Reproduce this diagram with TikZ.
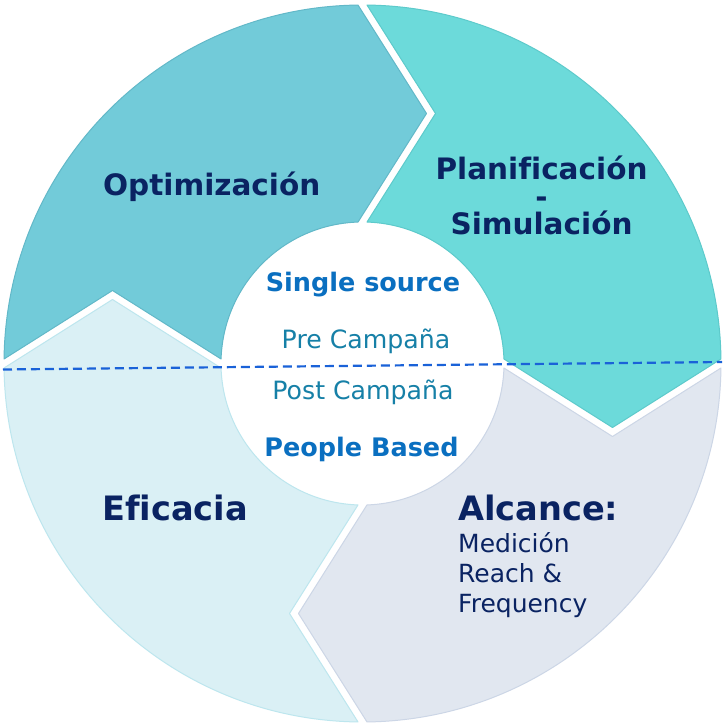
\documentclass[tikz,border=0pt]{standalone}
\usepackage{fontspec}
\setmainfont{DejaVu Sans}[Ligatures=CommonOff]
\usetikzlibrary{calc}
\definecolor{optfill}{HTML}{72CBD9}
\definecolor{optline}{HTML}{62B8C8}
\definecolor{planfill}{HTML}{6CDADA}
\definecolor{planline}{HTML}{5DCACB}
\definecolor{alcfill}{HTML}{E1E7F0}
\definecolor{alcline}{HTML}{CCD6E6}
\definecolor{efifill}{HTML}{DAF0F5}
\definecolor{efiline}{HTML}{BDE6EE}
\definecolor{navy}{HTML}{0A2362}
\definecolor{midblue}{HTML}{0A6FC0}
\definecolor{tealtxt}{HTML}{1680A7}
\definecolor{dashblue}{HTML}{1A62D8}
\def\Rout{358.5pt}
\def\Rin{141.5pt}
\def\Rmid{250pt}
\def\dtipm{64pt}
\def\dtipp{73pt}
\def\dR{0.72}
\def\dr{1.82}
\newcommand{\ringseg}[3]{%
  \path[segstyle, fill=#3fill, draw=#3line]
    ({#1-\dR}:\Rout) arc[start angle={#1-\dR}, end angle={#2+\dR}, radius=\Rout]
    -- ($({#2}:\Rmid)+({#2-90}:\dtipm)$)
    -- ({#2+\dr}:\Rin) arc[start angle={#2+\dr}, end angle={#1-\dr}, radius=\Rin]
    -- ($({#1}:\Rmid)+({#1-90}:\dtipp)$) -- cycle;}
\tikzset{
  segstyle/.style={line width=1pt, line join=round},
  title/.style={font=\bfseries\fontsize{29.5}{27.5}\selectfont, text=navy, inner sep=0pt},
  bigtitle/.style={font=\bfseries\fontsize{33.6}{36}\selectfont, text=navy, inner sep=0pt},
  ctrbold/.style={font=\bfseries\fontsize{25.5}{30}\selectfont, text=midblue, inner sep=0pt},
  ctrreg/.style={font=\fontsize{25.2}{30}\selectfont, text=tealtxt, inner sep=0pt},
  subtext/.style={font=\fontsize{25}{30}\selectfont, text=navy, inner sep=0pt, align=left},
  dashline/.style={draw=dashblue, line width=2.2pt, dash pattern=on 9pt off 5pt}
}
\begin{document}
\begin{tikzpicture}[x=1pt,y=1pt]
\useasboundingbox[fill=white] (-362.5,-363.5) rectangle (362.5,363.5);
\ringseg{180}{90}{opt}
\ringseg{90}{0}{plan}
\ringseg{0}{-90}{alc}
\ringseg{-90}{-180}{efi}
\coordinate (dl) at (-359.5,-6);
\coordinate (dr) at (359.5,1.5);
\draw[dashline] (dl) -- (dr);
\node[title, anchor=base] (opt) at (-150.8,167.5) {Optimización};
\node[title, anchor=base, align=center] (plan) at (179,128.5) {Planificación\\-\\Simulación};
\node[bigtitle, anchor=base] (efi) at (-187.5,-156.5) {Eficacia};
\node[bigtitle, anchor=base west] (alc) at (95.5,-156.5) {Alcance:};
\node[subtext, anchor=base west] (alcsub) at (95.5,-248.5) {Medición\\Reach \&\\Frequency};
\node[ctrbold, anchor=base] (single) at (0.5,71.8) {Single source};
\node[ctrreg, anchor=base] (pre) at (3.5,15.2) {Pre Campaña};
\node[ctrreg, anchor=base] (post) at (0.5,-36.5) {Post Campaña};
\node[ctrbold, anchor=base] (people) at (-1,-93.2) {People Based};
\end{tikzpicture}
\end{document}
